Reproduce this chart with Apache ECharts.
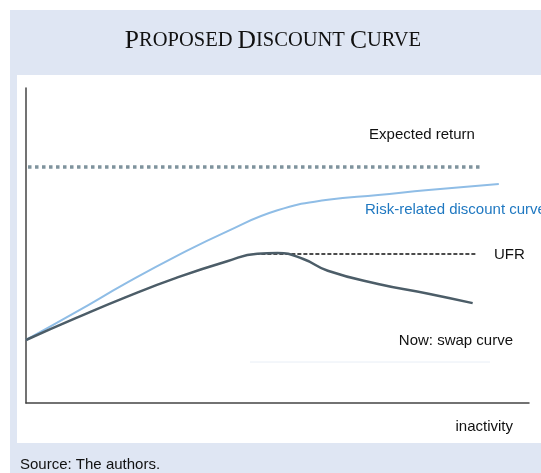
<!DOCTYPE html>
<html>
<head>
<meta charset="utf-8">
<script src="https://cdn.jsdelivr.net/npm/echarts@6/dist/echarts.min.js"></script>
<style>
  html, body { margin: 0; padding: 0; background: #fff; }
  #chart { width: 541px; height: 473px; }
</style>
</head>
<body>
<div id="chart"></div>
<script>
// maturity (x) and rate (y) in arbitrary units
const riskX = [0, 5, 10, 15, 20, 25, 30, 35, 40, 47];
const riskY = [2.0, 2.89, 3.81, 4.67, 5.45, 6.12, 6.45, 6.6, 6.76, 6.95];

const swapX = [0, 5, 10, 15, 20, 23, 25, 27.5, 30, 35, 40, 44.4];
const swapY = [2.0, 2.7, 3.37, 3.98, 4.5, 4.74, 4.76, 4.58, 4.2, 3.78, 3.47, 3.17];

const expectedX = [0.2, 45.4];
const expectedY = [7.49, 7.49];

const ufrX = [22.8, 44.8];
const ufrY = [4.73, 4.73];

const pairs = (xs, ys) => xs.map((x, i) => [x, ys[i]]);

const chart = echarts.init(document.getElementById('chart'));

const option = {
  animation: false,
  backgroundColor: '#fff',
  graphic: [
    { type: 'rect', z: -10, shape: { x: 10, y: 10, width: 531, height: 463 }, style: { fill: '#dfe6f3' } },
    { type: 'rect', z: -9, shape: { x: 17, y: 75, width: 524, height: 368 }, style: { fill: '#fff' } },
    { type: 'line', z: -8, shape: { x1: 250, y1: 362, x2: 490, y2: 362 }, style: { stroke: '#e8eef6', lineWidth: 1 } },
    {
      type: 'text', x: 273, y: 41,
      style: {
        text: '{b|P}{s|ROPOSED }{b|D}{s|ISCOUNT }{b|C}{s|URVE}',
        align: 'center', verticalAlign: 'middle',
        rich: {
          b: { fontFamily: 'Liberation Serif', fontSize: 25.5, fill: '#111' },
          s: { fontFamily: 'Liberation Serif', fontSize: 20.5, fill: '#111' }
        }
      }
    },
    { type: 'text', x: 422, y: 135, style: { text: 'Expected return', align: 'center', verticalAlign: 'middle', fontFamily: 'Liberation Sans', fontSize: 15, fill: '#111' } },
    { type: 'text', x: 365, y: 210, style: { text: 'Risk-related discount curve', verticalAlign: 'middle', fontFamily: 'Liberation Sans', fontSize: 15, fill: '#1f78c1' } },
    { type: 'text', x: 494, y: 255, style: { text: 'UFR', verticalAlign: 'middle', fontFamily: 'Liberation Sans', fontSize: 15, fill: '#111' } },
    { type: 'text', x: 513, y: 341, style: { text: 'Now: swap curve', align: 'right', verticalAlign: 'middle', fontFamily: 'Liberation Sans', fontSize: 15, fill: '#111' } },
    { type: 'text', x: 513, y: 427, style: { text: 'inactivity', align: 'right', verticalAlign: 'middle', fontFamily: 'Liberation Sans', fontSize: 15, fill: '#111' } },
    { type: 'text', x: 20, y: 465, style: { text: 'Source: The authors.', verticalAlign: 'middle', fontFamily: 'Liberation Sans', fontSize: 15, fill: '#111' } }
  ],
  grid: { left: 26, right: 12, top: 88, bottom: 70 },
  xAxis: {
    type: 'value', min: 0, max: 50,
    axisLine: { show: true, lineStyle: { color: '#444', width: 1.5 } },
    axisTick: { show: false }, axisLabel: { show: false }, splitLine: { show: false }
  },
  yAxis: {
    type: 'value', min: 0, max: 10,
    axisLine: { show: true, lineStyle: { color: '#444', width: 1.5 } },
    axisTick: { show: false }, axisLabel: { show: false }, splitLine: { show: false }
  },
  series: [
    {
      name: 'Expected return', type: 'line', data: pairs(expectedX, expectedY),
      symbol: 'none', lineStyle: { color: '#7f939d', width: 3.5, type: 'dotted' }
    },
    {
      name: 'UFR', type: 'line', data: pairs(ufrX, ufrY),
      symbol: 'none', lineStyle: { color: '#111', width: 1.5, type: [4, 2] }
    },
    {
      name: 'Risk-related discount curve', type: 'line', data: pairs(riskX, riskY),
      symbol: 'none', smooth: 0.5, lineStyle: { color: '#8fbde6', width: 2 }
    },
    {
      name: 'Now: swap curve', type: 'line', data: pairs(swapX, swapY),
      symbol: 'none', smooth: 0.5, lineStyle: { color: '#4c5d68', width: 2.5 }
    }
  ]
};

chart.setOption(option);
</script>
</body>
</html>
